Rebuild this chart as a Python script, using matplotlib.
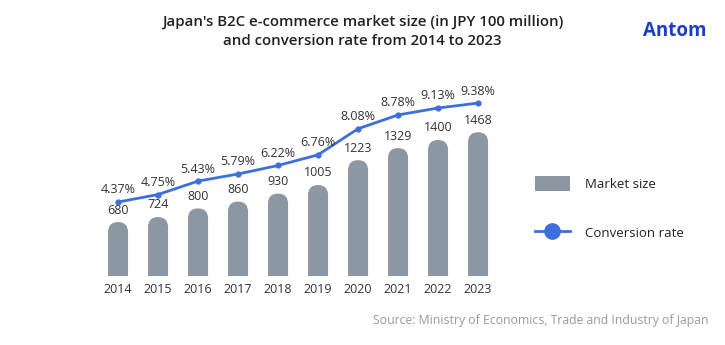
import matplotlib
matplotlib.use('Agg')
import numpy as np
import matplotlib.pyplot as plt
from matplotlib.patches import FancyBboxPatch
from matplotlib.lines import Line2D
from matplotlib.patches import Patch

plt.rcParams['font.family'] = ['Open Sans', 'DejaVu Sans']

years = ['2014', '2015', '2016', '2017', '2018', '2019', '2020', '2021', '2022', '2023']
market_size = [680, 724, 800, 860, 930, 1005, 1223, 1329, 1400, 1468]
conv_rate = [4.37, 4.75, 5.43, 5.79, 6.22, 6.76, 8.08, 8.78, 9.13, 9.38]

bar_color = '#8b97a3'
line_color = '#3d6fdc'

fig = plt.figure(figsize=(7.25, 3.45), dpi=100)
ax = fig.add_axes([0.1297, 0.2, 0.5628, 0.539])
x = np.arange(len(years))

bars = ax.bar(x, market_size, width=0.5, color=bar_color)
ax.set_xlim(-0.6, 9.6)
ax.set_ylim(207, 1838)

# swap plain bars for ones with rounded tops
ax.figure.canvas.draw()
px_per_unit = ax.transData.transform((0, 1)) - ax.transData.transform((0, 0))
px_per_x = ax.transData.transform((1, 0)) - ax.transData.transform((0, 0))
aspect = (px_per_x[0] / px_per_unit[1])
for b in bars:
    bx, by = b.get_x(), b.get_y()
    w, h = b.get_width(), b.get_height()
    b.set_visible(False)
    p = FancyBboxPatch((bx, by), w, h,
                       boxstyle='round,pad=0,rounding_size=%f' % (w / 2),
                       mutation_aspect=aspect, facecolor=bar_color,
                       edgecolor='none')
    ax.add_patch(p)
    ax.annotate(str(int(h)), (bx + w / 2, h), xytext=(0, 4),
                textcoords='offset points', ha='center', va='bottom',
                fontsize=9, color='#333333')

ax2 = ax.twinx()
ax2.plot(x, conv_rate, color=line_color, lw=2, marker='o', ms=3.5)
ax2.set_ylim(0.625, 10.04)
for xi, v in zip(x, conv_rate):
    ax2.annotate('%.2f%%' % v, (xi, v), xytext=(0, 4),
                 textcoords='offset points', ha='center', va='bottom',
                 fontsize=9, color='#333333')

for a in (ax, ax2):
    for s in a.spines.values():
        s.set_visible(False)
    a.set_yticks([])
ax.set_xticks(x)
ax.set_xticklabels(years, fontsize=9, color='#333333')
ax.tick_params(axis='x', length=0, pad=5)

handles = [Patch(facecolor=bar_color, edgecolor='none'),
           Line2D([], [], color=line_color, lw=2, marker='o', ms=11)]
fig.legend(handles, ['Market size', 'Conversion rate'],
           loc='upper left', bbox_to_anchor=(0.721, 0.523), frameon=False,
           fontsize=9.5, labelspacing=2.6, handlelength=2.65,
           handleheight=1.3, handletextpad=1.15, labelcolor='#222222')

fig.text(0.5, 0.958, "Japan's B2C e-commerce market size (in JPY 100 million)\nand conversion rate from 2014 to 2023",
         ha='center', va='top', fontsize=10.8, fontweight='semibold',
         color='#222222', linespacing=1.45)
fig.text(0.975, 0.91, 'Antom', ha='right', va='center', fontsize=13.5,
         fontweight='bold', color='#1b3fc4')
fig.text(0.977, 0.07, 'Source: Ministry of Economics, Trade and Industry of Japan',
         ha='right', va='center', fontsize=8.8, color='#9a9a9a')

fig.savefig('out.png', dpi=100)
